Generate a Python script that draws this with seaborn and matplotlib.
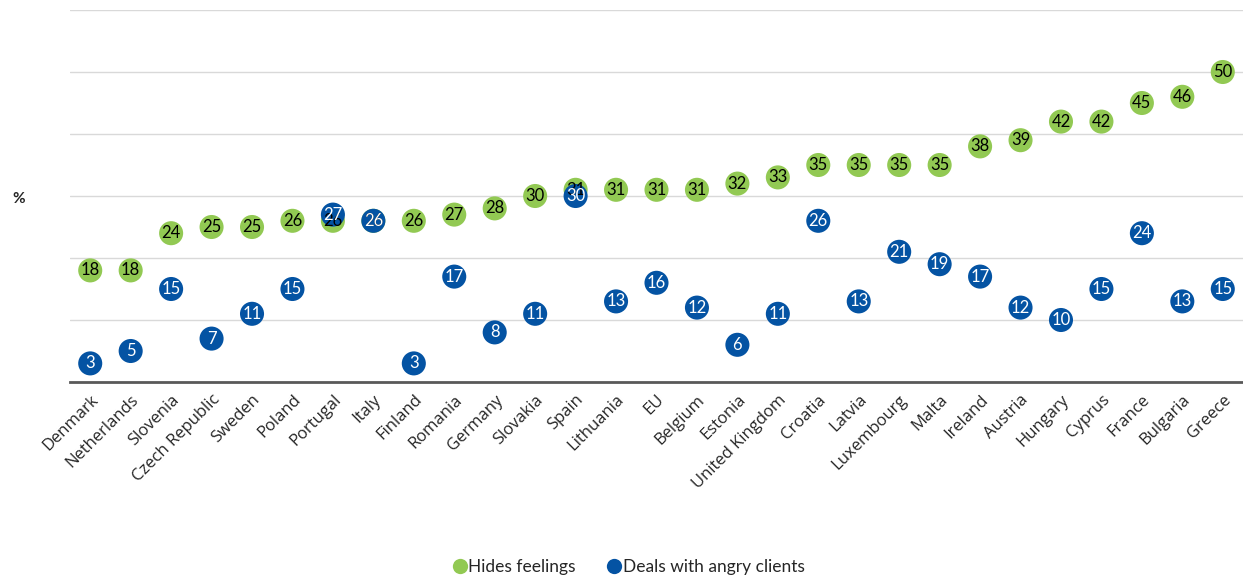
import matplotlib
matplotlib.use("Agg")
import matplotlib.pyplot as plt
import seaborn as sns
import pandas as pd

# données
countries = ["Denmark", "Netherlands", "Slovenia", "Czech Republic", "Sweden", "Poland",
             "Portugal", "Italy", "Finland", "Romania", "Germany", "Slovakia", "Spain",
             "Lithuania", "EU", "Belgium", "Estonia", "United Kingdom", "Croatia", "Latvia",
             "Luxembourg", "Malta", "Ireland", "Austria", "Hungary", "Cyprus", "France",
             "Bulgaria", "Greece"]
hides_feelings = [18, 18, 24, 25, 25, 26, 26, 26, 26, 27, 28, 30, 31, 31, 31, 31, 32, 33,
                  35, 35, 35, 35, 38, 39, 42, 42, 45, 46, 50]
angry_clients = [3, 5, 15, 7, 11, 15, 27, 26, 3, 17, 8, 11, 30, 13, 16, 12, 6, 11,
                 26, 13, 21, 19, 17, 12, 10, 15, 24, 13, 15]
series_names = ["Hides feelings", "Deals with angry clients"]
colors = ["#92C953", "#0453A3"]

df = pd.DataFrame({
    "country": countries * 2,
    "value": hides_feelings + angry_clients,
    "series": [series_names[0]] * len(countries) + [series_names[1]] * len(countries),
})

sns.set_theme(style="white")
plt.rcParams["font.family"] = ["Lato", "DejaVu Sans"]

fig = plt.figure(figsize=(12.43, 5.78), dpi=100)
ax = fig.add_axes([70 / 1243, 1 - 382 / 578, 1 - 70 / 1243, (382 - 10) / 578])

sns.scatterplot(data=df, x="country", y="value", hue="series", palette=colors,
                s=300, linewidth=0, ax=ax, zorder=3)

# étiquettes de valeurs
for i, v in enumerate(hides_feelings):
    ax.text(i, v, str(v), ha="center", va="center", fontsize=12, color="black", zorder=5)
for i, v in enumerate(angry_clients):
    ax.text(i, v, str(v), ha="center", va="center", fontsize=12, color="white", zorder=5)

ax.set_xlim(-0.5, len(countries) - 0.5)
ax.set_ylim(0, 60)
ax.set_yticks(range(0, 61, 10))
ax.set_yticklabels([])
ax.yaxis.grid(True, color="#d9d9d9", linewidth=1)
ax.set_axisbelow(True)
for s in ["top", "right", "left"]:
    ax.spines[s].set_visible(False)
ax.spines["bottom"].set_color("#595959")
ax.spines["bottom"].set_linewidth(2)
ax.tick_params(axis="both", length=0)
ax.tick_params(axis="x", pad=7)
ax.set_xlabel("")
ax.set_ylabel("")
plt.setp(ax.get_xticklabels(), rotation=45, ha="right", rotation_mode="anchor",
         fontsize=12, family=["Open Sans", "DejaVu Sans"])

fig.text(12 / 1243, 1 - 199 / 578, "%", fontsize=11, fontweight="bold", va="center")

# légende en bas, centrée
sns.move_legend(ax, "center", bbox_to_anchor=(0.5 - 70 / 1243 / 2, (1 - 567 / 578 - (1 - 382 / 578)) / ((382 - 10) / 578)),
                ncol=2, frameon=False, title=None, fontsize=12.5, handletextpad=-0.5,
                columnspacing=1.2, markerscale=1)
leg = ax.get_legend()
for h in leg.legend_handles:
    h.set_markersize(11)

fig.savefig("out.png", dpi=100)
